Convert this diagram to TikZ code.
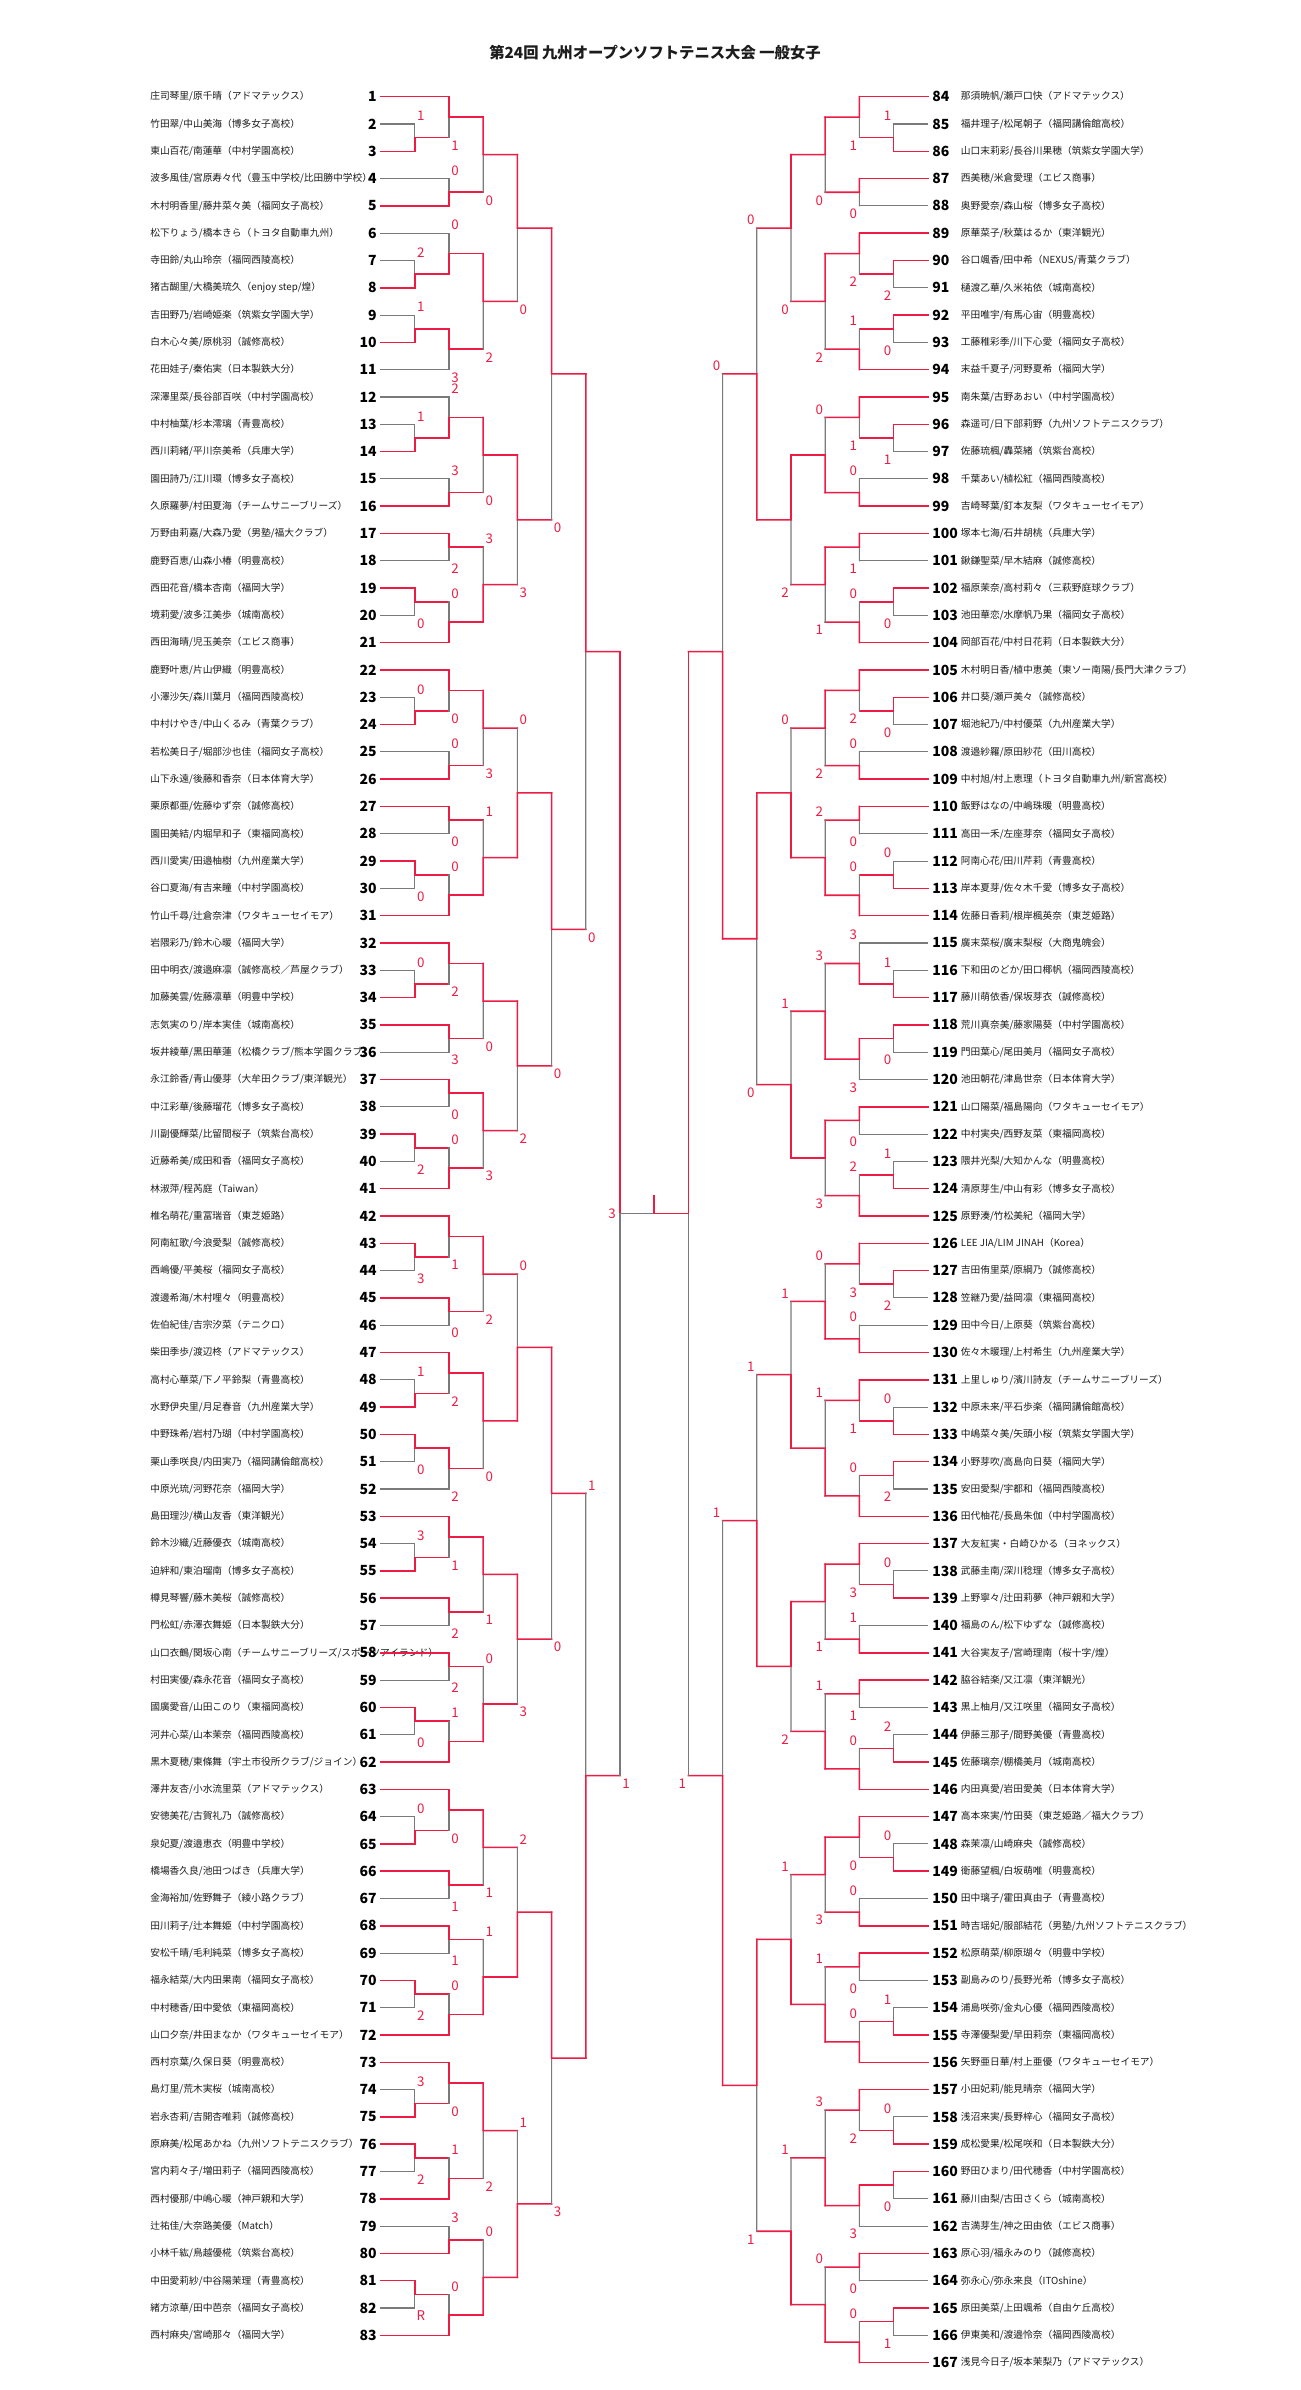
\documentclass[tikz,border=0pt]{standalone}
\usepackage{fontspec}
\setmainfont{Noto Sans CJK JP}
\usepackage{tikz}
\usetikzlibrary{calc}
\definecolor{wred}{RGB}{236,28,68}
\definecolor{lgray}{RGB}{122,122,122}
\definecolor{txt}{RGB}{28,28,28}
\tikzstyle{win}=[draw=wred,
line width=1.15pt,
line cap=rect,
]
\tikzstyle{lose}=[draw=lgray,
line width=0.85pt,
line cap=rect,
]
\tikzstyle{score}=[text=wred,
font=\fontsize{10}{10}\selectfont,
inner sep=0,
]
\tikzstyle{entnum}=[text=black,
font=\bfseries\fontsize{10.5}{10.5}\selectfont,
inner sep=0,
]
\tikzstyle{pname}=[text=txt,
font=\fontsize{7.3}{7.3}\selectfont,
inner sep=0,
]
% [pos]{match}{top}{bottom}{column}{next column}{winner t/b}{loser score}
\newcommand{\mt}[8][0.5]{%
  \coordinate (#2) at ($(#3 -| #5)!#1!(#4 -| #5)$);
  \if#7t
    \draw[lose] (#2) -- (#4 -| #5);
    \draw[win] (#3 -| #5) -- (#2) -- (#2 -| #6);
    \node[score, yshift=-6pt] (s#2) at ($(#4 -| #5)!4.5pt!(#4 -| #6)$) {#8};
  \else
    \draw[lose] (#3 -| #5) -- (#2);
    \draw[win] (#4 -| #5) -- (#2) -- (#2 -| #6);
    \node[score, yshift=6pt] (s#2) at ($(#3 -| #5)!4.5pt!(#3 -| #6)$) {#8};
  \fi}

\begin{document}
\begin{tikzpicture}[x=0.75pt, y=-0.75pt]
        \fill[white] (0,0) rectangle (1300,2390);
        \useasboundingbox (0,0) rectangle (1300,2390);
        \node[text=txt, font=\bfseries\fontsize{11.5}{11.5}\selectfont] (title) at (655,53) {第24回 九州オープンソフトテニス大会 一般女子};

        \foreach \k in {0,...,7} {
            \coordinate (L\k) at ({654.2-(8-\k)*34.2},0);
            \coordinate (R\k) at ({654.2+(8-\k)*34.2},0);
        }
        \coordinate (C) at (654.2,0);

        \foreach \i/\cl/\wn/\nm in {
            1/2/win/{庄司琴里/原千晴（アドマテックス）},
            2/1/lose/{竹田翠/中山美海（博多女子高校）},
            3/1/win/{東山百花/南蓮華（中村学園高校）},
            4/2/lose/{波多風佳/宮原寿々代（豊玉中学校/比田勝中学校）},
            5/2/win/{木村明香里/藤井菜々美（福岡女子高校）},
            6/2/lose/{松下りょう/橋本きら（トヨタ自動車九州）},
            7/1/lose/{寺田鈴/丸山玲奈（福岡西陵高校）},
            8/1/win/{猪古醐里/大橋美琉久（enjoy step/煌）},
            9/1/lose/{吉田野乃/岩崎姫楽（筑紫女学園大学）},
            10/1/win/{白木心々美/原桃羽（誠修高校）},
            11/2/lose/{花田娃子/秦佑実（日本製鉄大分）},
            12/2/lose/{深澤里菜/長谷部百咲（中村学園高校）},
            13/1/lose/{中村柚葉/杉本澪璃（青豊高校）},
            14/1/win/{西川莉緒/平川奈美希（兵庫大学）},
            15/2/lose/{園田詩乃/江川環（博多女子高校）},
            16/2/win/{久原羅夢/村田夏海（チームサニーブリーズ）},
            17/2/win/{万野由莉嘉/大森乃愛（男塾/福大クラブ）},
            18/2/lose/{鹿野百恵/山森小椿（明豊高校）},
            19/1/win/{西田花音/橋本杏南（福岡大学）},
            20/1/lose/{境莉愛/波多江美歩（城南高校）},
            21/2/win/{西田海晴/児玉美奈（エビス商事）},
            22/2/win/{鹿野叶恵/片山伊織（明豊高校）},
            23/1/lose/{小澤沙矢/森川葉月（福岡西陵高校）},
            24/1/win/{中村けやき/中山くるみ（青葉クラブ）},
            25/2/lose/{若松美日子/堀部沙也佳（福岡女子高校）},
            26/2/win/{山下永遠/後藤和香奈（日本体育大学）},
            27/2/win/{栗原都亜/佐藤ゆず奈（誠修高校）},
            28/2/lose/{園田美結/内堀早和子（東福岡高校）},
            29/1/win/{西川愛実/田邉柚樹（九州産業大学）},
            30/1/lose/{谷口夏海/有吉来瞳（中村学園高校）},
            31/2/win/{竹山千尋/辻倉奈津（ワタキューセイモア）},
            32/2/win/{岩隈彩乃/鈴木心暖（福岡大学）},
            33/1/lose/{田中明衣/渡邉麻凛（誠修高校／芦屋クラブ）},
            34/1/win/{加藤美雲/佐藤凛華（明豊中学校）},
            35/2/win/{志気実のり/岸本実佳（城南高校）},
            36/2/lose/{坂井綾華/黒田華蓮（松橋クラブ/熊本学園クラブ）},
            37/2/win/{永江鈴香/青山優芽（大牟田クラブ/東洋観光）},
            38/2/lose/{中江彩華/後藤瑠花（博多女子高校）},
            39/1/win/{川副優輝菜/比留間桜子（筑紫台高校）},
            40/1/lose/{近藤希美/成田和香（福岡女子高校）},
            41/2/win/{林淑萍/程芮庭（Taiwan）},
            42/2/win/{椎名萌花/重冨瑞音（東芝姫路）},
            43/1/win/{阿南紅歌/今浪愛梨（誠修高校）},
            44/1/lose/{西嶋優/平美桜（福岡女子高校）},
            45/2/win/{渡邊希海/木村哩々（明豊高校）},
            46/2/lose/{佐伯紀佳/吉宗汐菜（テニクロ）},
            47/2/win/{柴田季歩/渡辺柊（アドマテックス）},
            48/1/lose/{高村心華菜/下ノ平鈴梨（青豊高校）},
            49/1/win/{水野伊央里/月足春音（九州産業大学）},
            50/1/win/{中野珠希/岩村乃瑚（中村学園高校）},
            51/1/lose/{栗山季咲良/内田実乃（福岡講倫館高校）},
            52/2/lose/{中原光琉/河野花奈（福岡大学）},
            53/2/win/{島田理沙/横山友香（東洋観光）},
            54/1/lose/{鈴木沙織/近藤優衣（城南高校）},
            55/1/win/{迫絆和/東泊瑠南（博多女子高校）},
            56/2/win/{樽見琴響/藤木美桜（誠修高校）},
            57/2/lose/{門松虹/赤澤衣舞姫（日本製鉄大分）},
            58/2/win/{山口衣鶴/関坂心南（チームサニーブリーズ/スポーツアイランド）},
            59/2/lose/{村田実優/森永花音（福岡女子高校）},
            60/1/win/{國廣愛音/山田このり（東福岡高校）},
            61/1/lose/{河井心菜/山本茉奈（福岡西陵高校）},
            62/2/win/{黒木夏穂/東條舞（宇土市役所クラブ/ジョイン）},
            63/2/win/{澤井友杏/小水流里菜（アドマテックス）},
            64/1/lose/{安徳美花/古賀礼乃（誠修高校）},
            65/1/win/{泉妃夏/渡邉恵衣（明豊中学校）},
            66/2/win/{橋場香久良/池田つばき（兵庫大学）},
            67/2/lose/{金海裕加/佐野舞子（綾小路クラブ）},
            68/2/win/{田川莉子/辻本舞姫（中村学園高校）},
            69/2/lose/{安松千晴/毛利純菜（博多女子高校）},
            70/1/win/{福永結菜/大内田果南（福岡女子高校）},
            71/1/lose/{中村穂香/田中愛依（東福岡高校）},
            72/2/win/{山口夕奈/井田まなか（ワタキューセイモア）},
            73/2/win/{西村京葉/久保日葵（明豊高校）},
            74/1/lose/{島灯里/荒木実桜（城南高校）},
            75/1/win/{岩永杏莉/吉開杏唯莉（誠修高校）},
            76/1/win/{原麻美/松尾あかね（九州ソフトテニスクラブ）},
            77/1/lose/{宮内莉々子/増田莉子（福岡西陵高校）},
            78/2/win/{西村優那/中嶋心暖（神戸親和大学）},
            79/2/lose/{辻祐佳/大奈路美優（Match）},
            80/2/win/{小林千紘/鳥越優椛（筑紫台高校）},
            81/1/win/{中田愛莉紗/中谷陽茉理（青豊高校）},
            82/1/lose/{緒方涼華/田中芭奈（福岡女子高校）},
            83/2/win/{西村麻央/宮崎那々（福岡大学）}} {
            \pgfmathsetmacro\yy{96.7+(\i-1)*27.3}
            \node[pname, anchor=west] (t\i) at (150,\yy) {\nm};
            \node[entnum, anchor=east] (n\i) at (377,\yy) {\i};
            \coordinate (e\i) at (380.6,\yy);
            \draw[\wn] (e\i) -- (e\i -| L\cl);
        }

        \foreach \i/\cl/\wn/\nm in {
            84/2/win/{那須暁帆/瀬戸口快（アドマテックス）},
            85/1/lose/{福井理子/松尾朝子（福岡講倫館高校）},
            86/1/win/{山口末莉彩/長谷川果穂（筑紫女学園大学）},
            87/2/win/{西美穂/米倉愛理（エビス商事）},
            88/2/lose/{奥野愛奈/森山桜（博多女子高校）},
            89/2/win/{原華菜子/秋葉はるか（東洋観光）},
            90/1/win/{谷口颯香/田中希（NEXUS/青葉クラブ）},
            91/1/lose/{樋渡乙華/久米祐依（城南高校）},
            92/1/win/{平田唯宇/有馬心宙（明豊高校）},
            93/1/lose/{工藤稚彩季/川下心愛（福岡女子高校）},
            94/2/win/{末益千夏子/河野夏希（福岡大学）},
            95/2/win/{南朱葉/古野あおい（中村学園高校）},
            96/1/win/{森遥可/日下部莉野（九州ソフトテニスクラブ）},
            97/1/lose/{佐藤琉楓/轟菜緒（筑紫台高校）},
            98/2/lose/{千葉あい/植松紅（福岡西陵高校）},
            99/2/win/{吉崎琴葉/釘本友梨（ワタキューセイモア）},
            100/2/win/{塚本七海/石井胡桃（兵庫大学）},
            101/2/lose/{鍬鎌聖菜/早木結麻（誠修高校）},
            102/1/win/{福原茉奈/高村莉々（三萩野庭球クラブ）},
            103/1/lose/{池田華恋/水摩帆乃果（福岡女子高校）},
            104/2/win/{岡部百花/中村日花莉（日本製鉄大分）},
            105/2/win/{木村明日香/植中恵美（東ソー南陽/長門大津クラブ）},
            106/1/win/{井口葵/瀬戸美々（誠修高校）},
            107/1/lose/{堀池紀乃/中村優菜（九州産業大学）},
            108/2/lose/{渡邉紗羅/原田紗花（田川高校）},
            109/2/win/{中村旭/村上恵理（トヨタ自動車九州/新宮高校）},
            110/2/win/{飯野はなの/中嶋珠暖（明豊高校）},
            111/2/lose/{高田一禾/左座芽奈（福岡女子高校）},
            112/1/lose/{阿南心花/田川芹莉（青豊高校）},
            113/1/win/{岸本夏芽/佐々木千愛（博多女子高校）},
            114/2/win/{佐藤日香莉/根岸楓英奈（東芝姫路）},
            115/2/lose/{廣末菜桜/廣末梨桜（大商鬼魄会）},
            116/1/lose/{下和田のどか/田口椰帆（福岡西陵高校）},
            117/1/win/{藤川萌依香/保坂芽衣（誠修高校）},
            118/1/win/{荒川真奈美/藤家陽葵（中村学園高校）},
            119/1/lose/{門田葉心/尾田美月（福岡女子高校）},
            120/2/lose/{池田朝花/津島世奈（日本体育大学）},
            121/2/win/{山口陽菜/福島陽向（ワタキューセイモア）},
            122/2/lose/{中村実央/西野友菜（東福岡高校）},
            123/1/lose/{隈井光梨/大知かんな（明豊高校）},
            124/1/win/{清原芽生/中山有彩（博多女子高校）},
            125/2/win/{原野湊/竹松美紀（福岡大学）},
            126/2/win/{LEE JIA/LIM JINAH（Korea）},
            127/1/win/{吉田侑里菜/原綱乃（誠修高校）},
            128/1/lose/{笠継乃愛/益岡凛（東福岡高校）},
            129/2/lose/{田中今日/上原葵（筑紫台高校）},
            130/2/win/{佐々木暖理/上村希生（九州産業大学）},
            131/2/win/{上里しゅり/濱川詩友（チームサニーブリーズ）},
            132/1/lose/{中原未来/平石歩楽（福岡講倫館高校）},
            133/1/win/{中嶋菜々美/矢頭小桜（筑紫女学園大学）},
            134/1/win/{小野芽吹/高島向日葵（福岡大学）},
            135/1/lose/{安田愛梨/宇都和（福岡西陵高校）},
            136/2/win/{田代柚花/長島朱伽（中村学園高校）},
            137/2/win/{大友紅実・白崎ひかる（ヨネックス）},
            138/1/lose/{武藤圭南/深川稔理（博多女子高校）},
            139/1/win/{上野寧々/辻田莉夢（神戸親和大学）},
            140/2/lose/{福島のん/松下ゆずな（誠修高校）},
            141/2/win/{大谷実友子/宮崎理南（桜十字/煌）},
            142/2/win/{脇谷結楽/又江凛（東洋観光）},
            143/2/lose/{黒上柚月/又江咲里（福岡女子高校）},
            144/1/lose/{伊藤三那子/間野美優（青豊高校）},
            145/1/win/{佐藤璃奈/棚橋美月（城南高校）},
            146/2/win/{内田真愛/岩田愛美（日本体育大学）},
            147/2/win/{高本來実/竹田葵（東芝姫路／福大クラブ）},
            148/1/lose/{森茉凛/山崎麻央（誠修高校）},
            149/1/win/{衛藤望楓/白坂萌唯（明豊高校）},
            150/2/lose/{田中璃子/霍田真由子（青豊高校）},
            151/2/win/{時吉瑶妃/服部結花（男塾/九州ソフトテニスクラブ）},
            152/2/win/{松原萌菜/柳原瑚々（明豊中学校）},
            153/2/lose/{副島みのり/長野光希（博多女子高校）},
            154/1/lose/{浦島咲弥/金丸心優（福岡西陵高校）},
            155/1/win/{寺澤優梨愛/早田莉奈（東福岡高校）},
            156/2/win/{矢野亜日華/村上亜優（ワタキューセイモア）},
            157/2/win/{小田妃莉/能見晴奈（福岡大学）},
            158/1/lose/{浅沼来実/長野梓心（福岡女子高校）},
            159/1/win/{成松愛果/松尾咲和（日本製鉄大分）},
            160/1/win/{野田ひまり/田代穂香（中村学園高校）},
            161/1/lose/{藤川由梨/古田さくら（城南高校）},
            162/2/lose/{吉満芽生/神之田由依（エビス商事）},
            163/2/win/{原心羽/福永みのり（誠修高校）},
            164/2/lose/{弥永心/弥永来良（ITOshine）},
            165/1/win/{原田美菜/上田颯希（自由ケ丘高校）},
            166/1/lose/{伊東美和/渡邉怜奈（福岡西陵高校）},
            167/2/win/{浅見今日子/坂本茉梨乃（アドマテックス）}} {
            \pgfmathsetmacro\yy{96.7+(\i-84)*27.3}
            \node[pname, anchor=west] (t\i) at (960.7,\yy) {\nm};
            \node[entnum, anchor=west] (n\i) at (932,\yy) {\i};
            \coordinate (e\i) at (927.8,\yy);
            \draw[\wn] (e\i) -- (e\i -| R\cl);
        }

        \mt{m2_3}{e2}{e3}{L1}{L2}{b}{1}
        \mt{m1_3}{e1}{m2_3}{L2}{L3}{t}{1}
        \mt{m4_5}{e4}{e5}{L2}{L3}{b}{0}
        \mt{m1_5}{m1_3}{m4_5}{L3}{L4}{t}{0}
        \mt{m7_8}{e7}{e8}{L1}{L2}{b}{2}
        \mt{m6_8}{e6}{m7_8}{L2}{L3}{b}{0}
        \mt{m9_10}{e9}{e10}{L1}{L2}{b}{1}
        \mt{m9_11}{m9_10}{e11}{L2}{L3}{t}{3}
        \mt{m6_11}{m6_8}{m9_11}{L3}{L4}{t}{2}
        \mt{m1_11}{m1_5}{m6_11}{L4}{L5}{t}{0}
        \mt{m13_14}{e13}{e14}{L1}{L2}{b}{1}
        \mt{m12_14}{e12}{m13_14}{L2}{L3}{b}{2}
        \mt{m15_16}{e15}{e16}{L2}{L3}{b}{3}
        \mt{m12_16}{m12_14}{m15_16}{L3}{L4}{t}{0}
        \mt{m17_18}{e17}{e18}{L2}{L3}{t}{2}
        \mt{m19_20}{e19}{e20}{L1}{L2}{t}{0}
        \mt{m19_21}{m19_20}{e21}{L2}{L3}{b}{0}
        \mt{m17_21}{m17_18}{m19_21}{L3}{L4}{b}{3}
        \mt{m12_21}{m12_16}{m17_21}{L4}{L5}{t}{3}
        \mt{m1_21}{m1_11}{m12_21}{L5}{L6}{t}{0}
        \mt{m23_24}{e23}{e24}{L1}{L2}{b}{0}
        \mt{m22_24}{e22}{m23_24}{L2}{L3}{t}{0}
        \mt{m25_26}{e25}{e26}{L2}{L3}{b}{0}
        \mt{m22_26}{m22_24}{m25_26}{L3}{L4}{t}{3}
        \mt{m27_28}{e27}{e28}{L2}{L3}{t}{0}
        \mt{m29_30}{e29}{e30}{L1}{L2}{t}{0}
        \mt{m29_31}{m29_30}{e31}{L2}{L3}{b}{0}
        \mt{m27_31}{m27_28}{m29_31}{L3}{L4}{b}{1}
        \mt{m22_31}{m22_26}{m27_31}{L4}{L5}{b}{0}
        \mt{m33_34}{e33}{e34}{L1}{L2}{b}{0}
        \mt{m32_34}{e32}{m33_34}{L2}{L3}{t}{2}
        \mt{m35_36}{e35}{e36}{L2}{L3}{t}{3}
        \mt{m32_36}{m32_34}{m35_36}{L3}{L4}{t}{0}
        \mt{m37_38}{e37}{e38}{L2}{L3}{t}{0}
        \mt{m39_40}{e39}{e40}{L1}{L2}{t}{2}
        \mt{m39_41}{m39_40}{e41}{L2}{L3}{b}{0}
        \mt{m37_41}{m37_38}{m39_41}{L3}{L4}{t}{3}
        \mt{m32_41}{m32_36}{m37_41}{L4}{L5}{t}{2}
        \mt{m22_41}{m22_31}{m32_41}{L5}{L6}{t}{0}
        \mt{m1_41}{m1_21}{m22_41}{L6}{L7}{t}{0}
        \mt{m43_44}{e43}{e44}{L1}{L2}{t}{3}
        \mt{m42_44}{e42}{m43_44}{L2}{L3}{t}{1}
        \mt{m45_46}{e45}{e46}{L2}{L3}{t}{0}
        \mt{m42_46}{m42_44}{m45_46}{L3}{L4}{t}{2}
        \mt{m48_49}{e48}{e49}{L1}{L2}{b}{1}
        \mt{m47_49}{e47}{m48_49}{L2}{L3}{t}{2}
        \mt{m50_51}{e50}{e51}{L1}{L2}{t}{0}
        \mt{m50_52}{m50_51}{e52}{L2}{L3}{t}{2}
        \mt{m47_52}{m47_49}{m50_52}{L3}{L4}{t}{0}
        \mt{m42_52}{m42_46}{m47_52}{L4}{L5}{b}{0}
        \mt{m54_55}{e54}{e55}{L1}{L2}{b}{3}
        \mt{m53_55}{e53}{m54_55}{L2}{L3}{t}{1}
        \mt{m56_57}{e56}{e57}{L2}{L3}{t}{2}
        \mt{m53_57}{m53_55}{m56_57}{L3}{L4}{t}{1}
        \mt{m58_59}{e58}{e59}{L2}{L3}{t}{2}
        \mt{m60_61}{e60}{e61}{L1}{L2}{t}{0}
        \mt{m60_62}{m60_61}{e62}{L2}{L3}{b}{1}
        \mt{m58_62}{m58_59}{m60_62}{L3}{L4}{b}{0}
        \mt{m53_62}{m53_57}{m58_62}{L4}{L5}{t}{3}
        \mt{m42_62}{m42_52}{m53_62}{L5}{L6}{t}{0}
        \mt{m64_65}{e64}{e65}{L1}{L2}{b}{0}
        \mt{m63_65}{e63}{m64_65}{L2}{L3}{t}{0}
        \mt{m66_67}{e66}{e67}{L2}{L3}{t}{1}
        \mt{m63_67}{m63_65}{m66_67}{L3}{L4}{t}{1}
        \mt{m68_69}{e68}{e69}{L2}{L3}{t}{1}
        \mt{m70_71}{e70}{e71}{L1}{L2}{t}{2}
        \mt{m70_72}{m70_71}{e72}{L2}{L3}{b}{0}
        \mt{m68_72}{m68_69}{m70_72}{L3}{L4}{b}{1}
        \mt{m63_72}{m63_67}{m68_72}{L4}{L5}{b}{2}
        \mt{m74_75}{e74}{e75}{L1}{L2}{b}{3}
        \mt{m73_75}{e73}{m74_75}{L2}{L3}{t}{0}
        \mt{m76_77}{e76}{e77}{L1}{L2}{t}{2}
        \mt{m76_78}{m76_77}{e78}{L2}{L3}{b}{1}
        \mt{m73_78}{m73_75}{m76_78}{L3}{L4}{t}{2}
        \mt{m79_80}{e79}{e80}{L2}{L3}{b}{3}
        \mt{m81_82}{e81}{e82}{L1}{L2}{t}{R}
        \mt{m81_83}{m81_82}{e83}{L2}{L3}{b}{0}
        \mt{m79_83}{m79_80}{m81_83}{L3}{L4}{b}{0}
        \mt{m73_83}{m73_78}{m79_83}{L4}{L5}{b}{1}
        \mt{m63_83}{m63_72}{m73_83}{L5}{L6}{t}{3}
        \mt{m42_83}{m42_62}{m63_83}{L6}{L7}{b}{1}

        \mt{m85_86}{e85}{e86}{R1}{R2}{b}{1}
        \mt{m84_86}{e84}{m85_86}{R2}{R3}{t}{1}
        \mt{m87_88}{e87}{e88}{R2}{R3}{t}{0}
        \mt{m84_88}{m84_86}{m87_88}{R3}{R4}{t}{0}
        \mt{m90_91}{e90}{e91}{R1}{R2}{t}{2}
        \mt{m89_91}{e89}{m90_91}{R2}{R3}{t}{2}
        \mt{m92_93}{e92}{e93}{R1}{R2}{t}{0}
        \mt{m92_94}{m92_93}{e94}{R2}{R3}{b}{1}
        \mt{m89_94}{m89_91}{m92_94}{R3}{R4}{t}{2}
        \mt{m84_94}{m84_88}{m89_94}{R4}{R5}{t}{0}
        \mt{m96_97}{e96}{e97}{R1}{R2}{t}{1}
        \mt{m95_97}{e95}{m96_97}{R2}{R3}{t}{1}
        \mt{m98_99}{e98}{e99}{R2}{R3}{b}{0}
        \mt{m95_99}{m95_97}{m98_99}{R3}{R4}{b}{0}
        \mt{m100_101}{e100}{e101}{R2}{R3}{t}{1}
        \mt{m102_103}{e102}{e103}{R1}{R2}{t}{0}
        \mt{m102_104}{m102_103}{e104}{R2}{R3}{b}{0}
        \mt{m100_104}{m100_101}{m102_104}{R3}{R4}{t}{1}
        \mt{m95_104}{m95_99}{m100_104}{R4}{R5}{t}{2}
        \mt{m84_104}{m84_94}{m95_104}{R5}{R6}{b}{0}
        \mt{m106_107}{e106}{e107}{R1}{R2}{t}{0}
        \mt{m105_107}{e105}{m106_107}{R2}{R3}{t}{2}
        \mt{m108_109}{e108}{e109}{R2}{R3}{b}{0}
        \mt{m105_109}{m105_107}{m108_109}{R3}{R4}{t}{2}
        \mt{m110_111}{e110}{e111}{R2}{R3}{t}{0}
        \mt{m112_113}{e112}{e113}{R1}{R2}{b}{0}
        \mt{m112_114}{m112_113}{e114}{R2}{R3}{b}{0}
        \mt{m110_114}{m110_111}{m112_114}{R3}{R4}{b}{2}
        \mt{m105_114}{m105_109}{m110_114}{R4}{R5}{b}{0}
        \mt{m116_117}{e116}{e117}{R1}{R2}{b}{1}
        \mt{m115_117}{e115}{m116_117}{R2}{R3}{b}{3}
        \mt{m118_119}{e118}{e119}{R1}{R2}{t}{0}
        \mt{m118_120}{m118_119}{e120}{R2}{R3}{t}{3}
        \mt{m115_120}{m115_117}{m118_120}{R3}{R4}{b}{3}
        \mt{m121_122}{e121}{e122}{R2}{R3}{t}{0}
        \mt{m123_124}{e123}{e124}{R1}{R2}{b}{1}
        \mt{m123_125}{m123_124}{e125}{R2}{R3}{b}{2}
        \mt{m121_125}{m121_122}{m123_125}{R3}{R4}{t}{3}
        \mt{m115_125}{m115_120}{m121_125}{R4}{R5}{b}{1}
        \mt{m105_125}{m105_114}{m115_125}{R5}{R6}{t}{0}
        \mt[0.4917]{m84_125}{m84_104}{m105_125}{R6}{R7}{b}{0}
        \mt{m127_128}{e127}{e128}{R1}{R2}{t}{2}
        \mt{m126_128}{e126}{m127_128}{R2}{R3}{t}{3}
        \mt{m129_130}{e129}{e130}{R2}{R3}{b}{0}
        \mt{m126_130}{m126_128}{m129_130}{R3}{R4}{b}{0}
        \mt{m132_133}{e132}{e133}{R1}{R2}{b}{0}
        \mt{m131_133}{e131}{m132_133}{R2}{R3}{t}{1}
        \mt{m134_135}{e134}{e135}{R1}{R2}{t}{2}
        \mt{m134_136}{m134_135}{e136}{R2}{R3}{b}{0}
        \mt{m131_136}{m131_133}{m134_136}{R3}{R4}{b}{1}
        \mt{m126_136}{m126_130}{m131_136}{R4}{R5}{b}{1}
        \mt{m138_139}{e138}{e139}{R1}{R2}{b}{0}
        \mt{m137_139}{e137}{m138_139}{R2}{R3}{t}{3}
        \mt{m140_141}{e140}{e141}{R2}{R3}{b}{1}
        \mt{m137_141}{m137_139}{m140_141}{R3}{R4}{t}{1}
        \mt{m142_143}{e142}{e143}{R2}{R3}{t}{1}
        \mt{m144_145}{e144}{e145}{R1}{R2}{b}{2}
        \mt{m144_146}{m144_145}{e146}{R2}{R3}{b}{0}
        \mt{m142_146}{m142_143}{m144_146}{R3}{R4}{b}{1}
        \mt{m137_146}{m137_141}{m142_146}{R4}{R5}{t}{2}
        \mt{m126_146}{m126_136}{m137_146}{R5}{R6}{b}{1}
        \mt{m148_149}{e148}{e149}{R1}{R2}{b}{0}
        \mt{m147_149}{e147}{m148_149}{R2}{R3}{t}{0}
        \mt{m150_151}{e150}{e151}{R2}{R3}{b}{0}
        \mt{m147_151}{m147_149}{m150_151}{R3}{R4}{t}{3}
        \mt{m152_153}{e152}{e153}{R2}{R3}{t}{0}
        \mt{m154_155}{e154}{e155}{R1}{R2}{b}{1}
        \mt{m154_156}{m154_155}{e156}{R2}{R3}{b}{0}
        \mt{m152_156}{m152_153}{m154_156}{R3}{R4}{b}{1}
        \mt{m147_156}{m147_151}{m152_156}{R4}{R5}{b}{1}
        \mt{m158_159}{e158}{e159}{R1}{R2}{b}{0}
        \mt{m157_159}{e157}{m158_159}{R2}{R3}{t}{2}
        \mt{m160_161}{e160}{e161}{R1}{R2}{t}{0}
        \mt{m160_162}{m160_161}{e162}{R2}{R3}{t}{3}
        \mt{m157_162}{m157_159}{m160_162}{R3}{R4}{b}{3}
        \mt{m163_164}{e163}{e164}{R2}{R3}{t}{0}
        \mt{m165_166}{e165}{e166}{R1}{R2}{t}{1}
        \mt{m165_167}{m165_166}{e167}{R2}{R3}{b}{0}
        \mt{m163_167}{m163_164}{m165_167}{R3}{R4}{b}{0}
        \mt{m157_167}{m157_162}{m163_167}{R4}{R5}{b}{1}
        \mt{m147_167}{m147_156}{m157_167}{R5}{R6}{t}{1}
        \mt[0.4516]{m126_167}{m126_146}{m147_167}{R6}{R7}{b}{1}

        \coordinate (sf1) at ($(m1_41 -| L7)!0.5!(m42_83 -| L7)$);
        \draw[lose] (sf1) -- (m42_83 -| L7);
        \draw[win] (m1_41 -| L7) -- (sf1);
        \node[score, yshift=-6pt] (ssf1) at ($(m42_83 -| L7)!4.5pt!(m42_83 -| C)$) {1};
        \coordinate (sf2) at ($(m84_125 -| R7)!0.5!(m126_167 -| R7)$);
        \draw[lose] (sf2) -- (m126_167 -| R7);
        \draw[win] (m84_125 -| R7) -- (sf2);
        \node[score, yshift=-6pt] (ssf2) at ($(m126_167 -| R7)!4.5pt!(m126_167 -| C)$) {1};
        \draw[lose] (sf1) -- (sf1 -| C);
        \draw[win] (sf2) -- (sf2 -| C);
        \draw[win] (sf2 -| C) -- ++(0,-18);
        \node[score] (sfin) at ($(sf1)+(-8,0)$) {3};
    \end{tikzpicture}
\end{document}
